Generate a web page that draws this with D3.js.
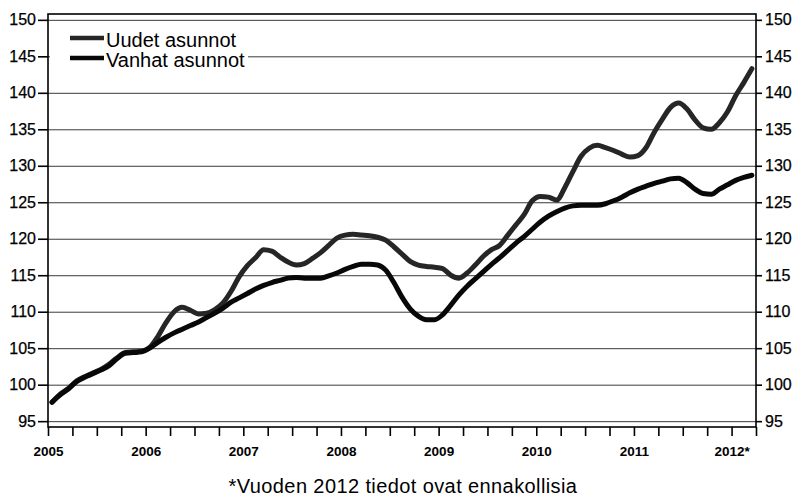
<!DOCTYPE html>
<meta charset="utf-8">
<head>
    <title>Asuntojen hinnat</title>
    <script src="https://cdn.jsdelivr.net/npm/d3@7"></script>
</head>

<style>
    body { margin: 0; background: #fff; }
    text { font-family: "Liberation Sans", Arial, sans-serif; fill: #000; }
    .grid line { stroke: #3a3a3a; stroke-width: 1px; }
    .series { fill: none; stroke-width: 5px; stroke-linejoin: round; stroke-linecap: round; }
</style>

<svg></svg>

<script>
    var vWidth = 799;
    var vHeight = 496;

    // monthly index values, Jan 2005 .. Mar 2012
    var startYear = 2005;
    var uudet = [
        97.6, 98.7, 99.5, 100.5, 101.1, 101.6, 102.1, 102.8, 103.7, 104.4, 104.5, 104.6,   // 2005
        105.1, 106.6, 108.5, 110.0, 110.6, 110.2, 109.7, 109.8, 110.3, 111.2, 112.8, 114.8, // 2006
        116.3, 117.4, 118.5, 118.3, 117.5, 116.8, 116.4, 116.6, 117.3, 118.1, 119.1, 120.1, // 2007
        120.5, 120.6, 120.5, 120.4, 120.2, 119.8, 118.9, 117.9, 116.9, 116.4, 116.2, 116.1, // 2008
        115.9, 115.0, 114.6, 115.3, 116.4, 117.6, 118.5, 119.1, 120.5, 121.9, 123.3, 125.2, // 2009
        125.8, 125.7, 125.3, 127.0, 129.2, 131.3, 132.4, 132.8, 132.5, 132.1, 131.6, 131.2, // 2010
        131.4, 132.5, 134.6, 136.4, 138.0, 138.6, 137.8, 136.3, 135.2, 135.0, 135.9, 137.4, // 2011
        139.6, 141.4, 143.3                                                                 // 2012
    ];
    var vanhat = [
        97.6, 98.6, 99.4, 100.4, 101.0, 101.5, 102.0, 102.6, 103.6, 104.3, 104.4, 104.5,   // 2005
        105.0, 105.8, 106.5, 107.1, 107.6, 108.1, 108.6, 109.2, 109.8, 110.5, 111.3, 111.9, // 2006
        112.5, 113.1, 113.6, 114.0, 114.3, 114.6, 114.7, 114.6, 114.6, 114.6, 114.9, 115.3, // 2007
        115.8, 116.2, 116.5, 116.5, 116.4, 115.7, 114.0, 112.0, 110.4, 109.4, 108.9, 108.9, // 2008
        109.6, 110.9, 112.3, 113.5, 114.5, 115.5, 116.5, 117.4, 118.4, 119.4, 120.3, 121.3, // 2009
        122.3, 123.1, 123.7, 124.2, 124.5, 124.6, 124.6, 124.6, 124.8, 125.2, 125.7, 126.3, // 2010
        126.8, 127.2, 127.6, 127.9, 128.2, 128.3, 127.7, 126.8, 126.2, 126.1, 126.8, 127.4, // 2011
        128.0, 128.4, 128.7                                                                 // 2012
    ];
    var seriesNames = ['Uudet asunnot', 'Vanhat asunnot'];
    var seriesColors = ['#262626', '#080808'];
    var yearLabels = ['2005', '2006', '2007', '2008', '2009', '2010', '2011', '2012*'];
    var yTicks = [95, 100, 105, 110, 115, 120, 125, 130, 135, 140, 145, 150];
    var note = '*Vuoden 2012 tiedot ovat ennakollisia';

    var svg = d3.select('svg').attr('width', vWidth).attr('height', vHeight);

    var x = d3.scaleLinear().domain([2005, 2012.25]).range([48, 756]);
    var y = d3.scaleLinear().domain([94.2, 150.8]).range([427, 14]);

    function monthPos(i) { return startYear + (i + 0.5) / 12; }

    // grid
    svg.append('g').attr('class', 'grid')
        .selectAll('line').data(yTicks).enter().append('line')
        .attr('x1', x.range()[0]).attr('x2', x.range()[1])
        .attr('y1', function (d) { return y(d) + 0.5; })
        .attr('y2', function (d) { return y(d) + 0.5; });

    // lines
    var line = d3.line()
        .x(function (d, i) { return x(monthPos(i)); })
        .y(function (d) { return y(d); })
        .curve(d3.curveMonotoneX);

    svg.selectAll('path.series').data([uudet, vanhat]).enter().append('path')
        .attr('class', 'series')
        .attr('stroke', function (d, i) { return seriesColors[i]; })
        .attr('d', line);

    // legend
    var lg = svg.append('g');
    lg.append('rect').attr('x', 50).attr('y', 24).attr('width', 198).attr('height', 48).attr('fill', '#fff');
    seriesNames.forEach(function (name, i) {
        var ly = 38 + i * 20;
        lg.append('line').attr('x1', 70).attr('x2', 104).attr('y1', ly).attr('y2', ly)
            .attr('stroke', seriesColors[i]).attr('stroke-width', 4.5);
        lg.append('text').attr('x', 106).attr('y', ly + 9).attr('font-size', 20).text(name);
    });

    // frame
    svg.append('rect')
        .attr('x', 48).attr('y', 14).attr('width', 708).attr('height', 413)
        .attr('fill', 'none').attr('stroke', '#000').attr('stroke-width', 1.6);

    // y axes
    var yLeft = d3.axisLeft(y).tickValues(yTicks).tickSize(10).tickPadding(2);
    var yRight = d3.axisRight(y).tickValues(yTicks).tickSize(6).tickPadding(3);
    svg.append('g').attr('transform', 'translate(48,0)').call(yLeft);
    svg.append('g').attr('transform', 'translate(756,0)').call(yRight);

    // x axis, quarterly ticks
    var qTicks = d3.range(0, 30).map(function (i) { return 2005 + i * 0.25; });
    var xAxis = d3.axisBottom(x).tickValues(qTicks).tickSize(9).tickPadding(10)
        .tickFormat(function (d) { return d % 1 === 0 ? yearLabels[d - 2005] || '' : ''; });
    svg.append('g').attr('class', 'xaxis').attr('transform', 'translate(0,427)').call(xAxis);

    svg.selectAll('.domain').remove();
    svg.selectAll('.tick line').attr('stroke', '#000').attr('stroke-width', 1.6);
    svg.selectAll('.tick text').attr('font-family', '"Liberation Sans", Arial, sans-serif')
        .attr('font-size', 16).attr('fill', '#000')
        .attr('stroke', '#000').attr('stroke-width', 0.25);
    svg.selectAll('.xaxis .tick text').attr('font-size', 13.5).attr('font-weight', 'bold')
        .attr('stroke', 'none');

    svg.append('text').attr('x', 403).attr('y', 493).attr('text-anchor', 'middle')
        .attr('font-size', 20).attr('letter-spacing', 0.4).text(note);
</script>
